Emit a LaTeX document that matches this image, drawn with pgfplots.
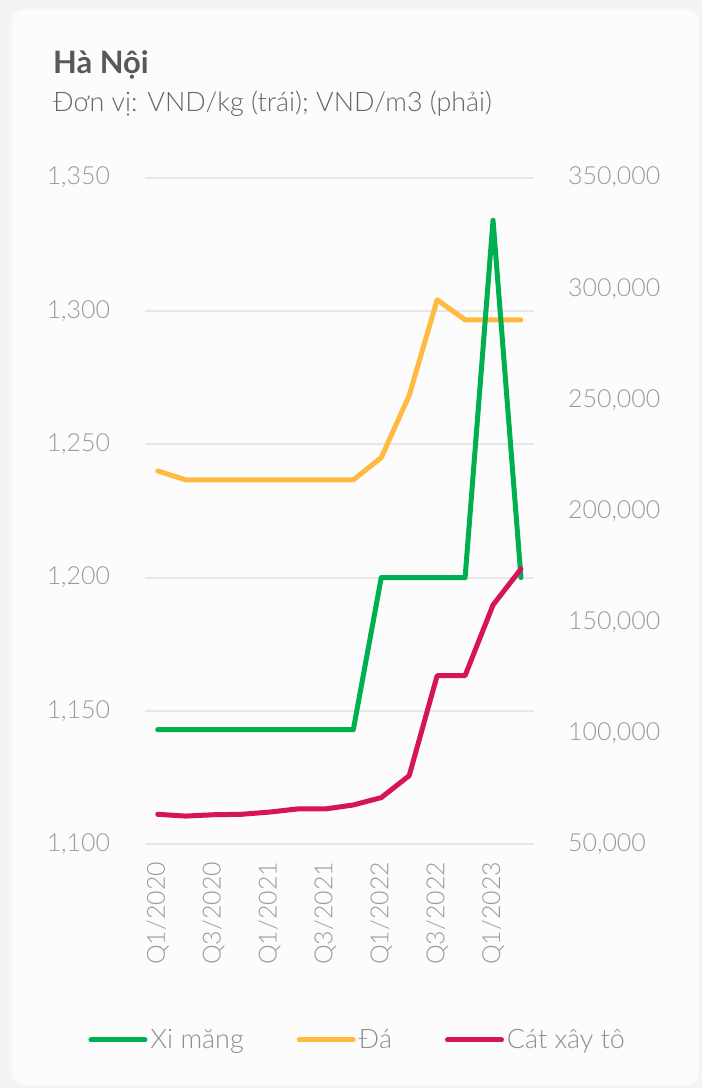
\documentclass[border=0pt]{standalone}
\usepackage{fontspec}
\setmainfont{Lato Light}[BoldFont={Lato Bold}]
\usepackage{pgfplots}
\pgfplotsset{compat=1.18}

\definecolor{ximang}{HTML}{00B050}
\definecolor{da}{HTML}{FFBA42}
\definecolor{cat}{HTML}{D6145A}
\definecolor{ticktext}{HTML}{9B9B9B}
\definecolor{legtext}{HTML}{8E8E8E}
\definecolor{gridc}{HTML}{E7E7E7}
\definecolor{titlec}{HTML}{585858}
\definecolor{subc}{HTML}{666666}
\definecolor{pagebg}{HTML}{F3F3F3}
\definecolor{cardbg}{HTML}{FCFCFC}

\pgfplotsset{
  base/.style={
    scale only axis,
    width=389.3bp, height=666.7bp,
    at={(144.7bp,243.7bp)}, anchor=south west,
    xmin=-0.466, xmax=13.466,
    axis line style={draw=none},
    major tick length=0pt,
    tick label style={font=\fontsize{25}{30}\selectfont, text=ticktext},
    /pgf/number format/.cd, fixed, 1000 sep={,}, assume math mode=true,
  },
  leftscale/.style={ymin=1100, ymax=1350, ytick={1100,1150,...,1350}},
  rightscale/.style={ymin=50000, ymax=350000,
    ytick={50000,100000,...,350000}, scaled y ticks=false},
  series/.style={line width=5bp, line join=round, line cap=round, no markers},
}

\begin{document}
\begin{tikzpicture}
% page and card
\useasboundingbox (0,0) rectangle (702bp,1088bp);
\fill[pagebg] (0,0) rectangle (702bp,1088bp);
\fill[black!4, rounded corners=14bp] (9bp,1bp) rectangle (702bp,1080bp);
\fill[cardbg, rounded corners=12bp] (12bp,3bp) rectangle (699bp,1078bp);

% title block
\node[anchor=base west, inner sep=0pt, text=titlec, font=\fontsize{31}{37}\selectfont\bfseries]
  at (53bp,1014bp) {Hà Nội};
\node[anchor=base west, inner sep=0pt, text=subc, font=\fontsize{27}{33}\selectfont]
  at (53bp,976.5bp) {Đơn vị: VND/kg (trái); VND/m3 (phải)};

% left scale: grid, left tick labels, quarter labels
\begin{axis}[base, leftscale,
  ymajorgrids, grid style={gridc, line width=2bp},
  yticklabel style={anchor=east, inner sep=0pt, xshift=-34.5bp},
  xtick={0,2,...,12},
  xticklabels={Q1/2020,Q3/2020,Q1/2021,Q3/2021,Q1/2022,Q3/2022,Q1/2023},
  xticklabel style={rotate=90, anchor=east, inner sep=0pt},
  xticklabel shift=17.5bp,
]
\end{axis}

% right scale: Đá (VND/m3)
\begin{axis}[base, rightscale,
  axis y line*=right, axis x line=none,
  yticklabel style={anchor=west, inner sep=0pt, xshift=34bp},
]
\addplot[series, da] coordinates {
  (0,218000) (1,214000) (2,214000) (3,214000) (4,214000) (5,214000) (6,214000)
  (7,214000) (8,224000) (9,252000) (10,295000) (11,286000) (12,286000) (13,286000)
};
\end{axis}

% left scale: Xi măng (VND/kg)
\begin{axis}[base, leftscale, hide axis]
\addplot[series, ximang] coordinates {
  (0,1143) (1,1143) (2,1143) (3,1143) (4,1143) (5,1143) (6,1143)
  (7,1143) (8,1200) (9,1200) (10,1200) (11,1200) (12,1334) (13,1200)
};
\end{axis}

% right scale: Cát xây tô (VND/m3), and the legend
\begin{axis}[base, rightscale, hide axis,
  legend columns=3,
  legend style={at={(-0.1444,-0.2935)}, anchor=west, draw=none, fill=none,
    inner sep=0pt, outer sep=0pt,
    font=\fontsize{27}{33}\selectfont, text=legtext,
    nodes={inner sep=0pt, anchor=west},
    /tikz/every odd column/.append style={column sep=3bp},
    /tikz/every even column/.append style={column sep=53bp}},
  legend image code/.code={\draw[#1, line width=5bp, line cap=round] (0bp,0bp) -- (54bp,0bp);},
]
\addlegendimage{ximang}
\addlegendentry{Xi măng}
\addlegendimage{da}
\addlegendentry{Đá}
\addplot[series, cat] coordinates {
  (0,63500) (1,62700) (2,63300) (3,63500) (4,64500) (5,65900) (6,65900)
  (7,67700) (8,71000) (9,80900) (10,125900) (11,125900) (12,157700) (13,173900)
};
\addlegendentry{Cát xây tô}
\end{axis}
\end{tikzpicture}
\end{document}
